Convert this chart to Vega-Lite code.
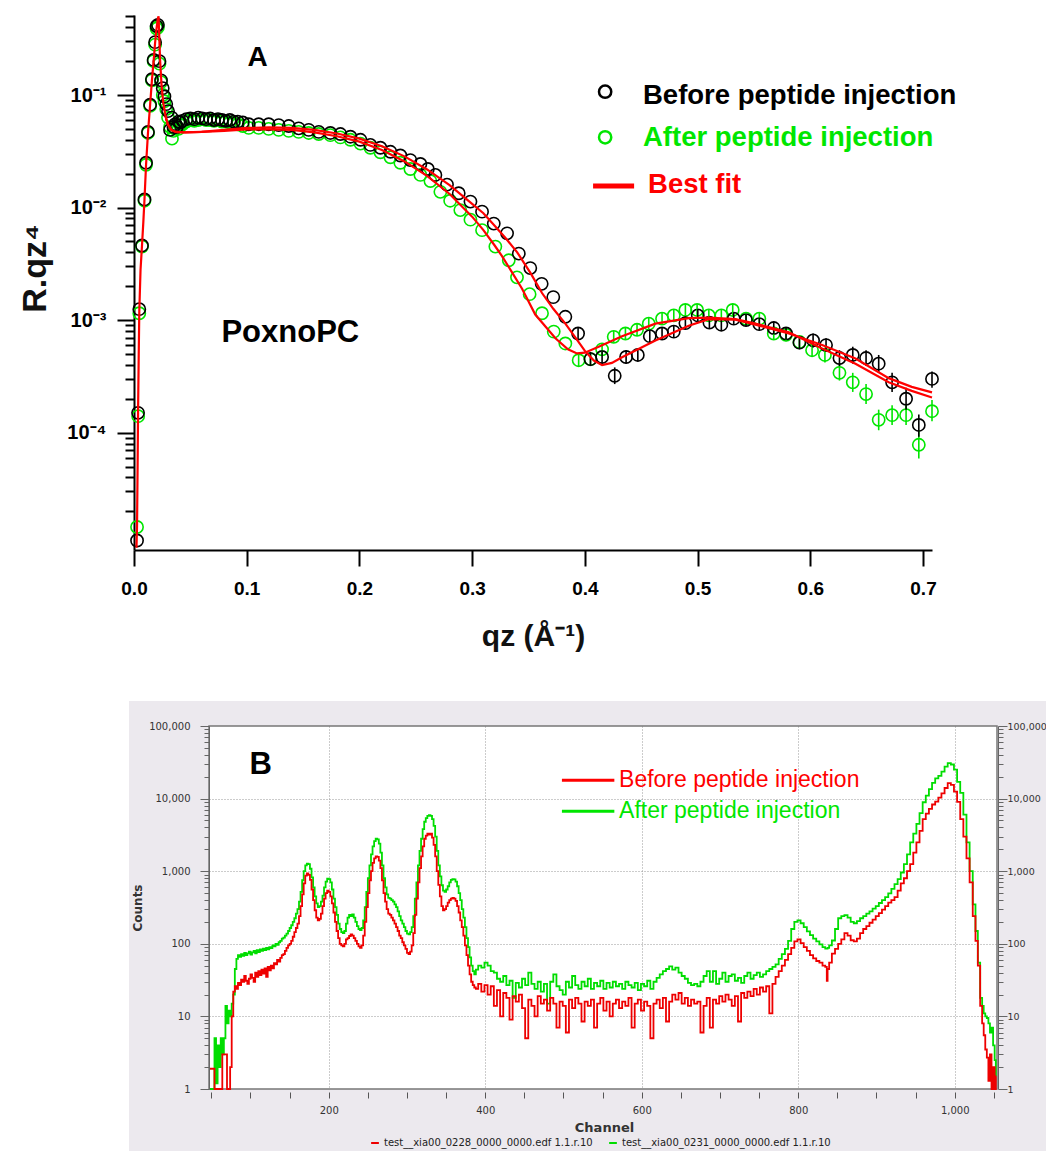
{
"$schema":"https://vega.github.io/schema/vega-lite/v6.json",
"background":"white",
"padding":{"left":18,"top":6,"right":0,"bottom":0},
"config":{"view":{"stroke":null,"fill":"white"},"font":"Liberation Sans"},
"datasets":{
"ptsA":[
{"s":"a","q":0.0027,"r":1.45e-5},{"s":"a","q":0.0037,"r":1.4e-4},{"s":"a","q":0.0047,"r":1.15e-3},{"s":"a","q":0.0071,"r":4.5e-3},{"s":"a","q":0.0093,"r":0.0115},{"s":"a","q":0.0107,"r":0.024},{"s":"a","q":0.0124,"r":0.046},{"s":"a","q":0.0143,"r":0.08},{"s":"a","q":0.0159,"r":0.135},{"s":"a","q":0.0174,"r":0.2},{"s":"a","q":0.0187,"r":0.28},{"s":"a","q":0.02,"r":0.39},{"s":"a","q":0.0212,"r":0.4},{"s":"a","q":0.0226,"r":0.19},{"s":"a","q":0.024,"r":0.13},{"s":"a","q":0.0255,"r":0.1},{"s":"a","q":0.027,"r":0.088},{"s":"a","q":0.0286,"r":0.075},{"s":"a","q":0.0302,"r":0.063},{"s":"a","q":0.032,"r":0.052},{"s":"a","q":0.0337,"r":0.041},{"s":"a","q":0.035,"r":0.048},{"s":"a","q":0.0366,"r":0.05},{"s":"a","q":0.038,"r":0.053},{"s":"a","q":0.0395,"r":0.05},{"s":"a","q":0.041,"r":0.054},{"s":"a","q":0.043,"r":0.055},{"s":"a","q":0.0465,"r":0.058},{"s":"a","q":0.05,"r":0.06},{"s":"a","q":0.0535,"r":0.059},{"s":"a","q":0.057,"r":0.06},{"s":"a","q":0.0605,"r":0.061},{"s":"a","q":0.064,"r":0.06},{"s":"a","q":0.0675,"r":0.06},{"s":"a","q":0.071,"r":0.059},{"s":"a","q":0.0745,"r":0.06},{"s":"a","q":0.078,"r":0.058},{"s":"a","q":0.0815,"r":0.058},{"s":"a","q":0.085,"r":0.057},{"s":"a","q":0.0885,"r":0.056},{"s":"a","q":0.092,"r":0.055},{"s":"a","q":0.0965,"r":0.053},
{"s":"a","q":0.1018,"r":0.051},{"s":"a","q":0.1106,"r":0.051},{"s":"a","q":0.1195,"r":0.05},{"s":"a","q":0.1284,"r":0.049},{"s":"a","q":0.1373,"r":0.048},{"s":"a","q":0.1461,"r":0.047},{"s":"a","q":0.155,"r":0.046},{"s":"a","q":0.1639,"r":0.045},{"s":"a","q":0.1742,"r":0.044},{"s":"a","q":0.1831,"r":0.042},{"s":"a","q":0.192,"r":0.04},{"s":"a","q":0.2009,"r":0.037},{"s":"a","q":0.2097,"r":0.034},{"s":"a","q":0.2186,"r":0.031},{"s":"a","q":0.2275,"r":0.028},{"s":"a","q":0.2363,"r":0.025},{"s":"a","q":0.2452,"r":0.022},{"s":"a","q":0.2541,"r":0.0195},{"s":"a","q":0.263,"r":0.0172},{"s":"a","q":0.2718,"r":0.0138},{"s":"a","q":0.2805,"r":0.0115},{"s":"a","q":0.2895,"r":0.0095},{"s":"a","q":0.2985,"r":0.0078},{"s":"a","q":0.3088,"r":0.0063},{"s":"a","q":0.3206,"r":0.0045},{"s":"a","q":0.3325,"r":0.0034},{"s":"a","q":0.3398,"r":0.0024},{"s":"a","q":0.351,"r":0.0017},{"s":"a","q":0.362,"r":0.00115},{"s":"a","q":0.3724,"r":0.00079},{"s":"a","q":0.3827,"r":0.00062},
{"s":"a","q":0.3945,"r":0.00044,"lo":0.00039,"hi":0.0005},{"s":"a","q":0.405,"r":0.00045,"lo":0.0004,"hi":0.00051},{"s":"a","q":0.4153,"r":0.00055,"lo":0.00049,"hi":0.00062},{"s":"a","q":0.4256,"r":0.00071,"lo":0.00063,"hi":0.0008},{"s":"a","q":0.436,"r":0.00076,"lo":0.00067,"hi":0.00086},{"s":"a","q":0.4463,"r":0.00082,"lo":0.00073,"hi":0.00093},{"s":"a","q":0.4567,"r":0.00093,"lo":0.00082,"hi":0.00105},{"s":"a","q":0.4685,"r":0.00103,"lo":0.00091,"hi":0.00116},{"s":"a","q":0.4789,"r":0.0011,"lo":0.00097,"hi":0.00124},{"s":"a","q":0.4892,"r":0.00123,"lo":0.00109,"hi":0.00139},{"s":"a","q":0.4996,"r":0.00123,"lo":0.00109,"hi":0.00139},{"s":"a","q":0.51,"r":0.0011,"lo":0.00097,"hi":0.00124},{"s":"a","q":0.5211,"r":0.0011,"lo":0.00097,"hi":0.00124},{"s":"a","q":0.5312,"r":0.00123,"lo":0.00108,"hi":0.0014},{"s":"a","q":0.543,"r":0.00103,"lo":0.00091,"hi":0.00116},{"s":"a","q":0.5548,"r":0.00103,"lo":0.00091,"hi":0.00116},{"s":"a","q":0.5676,"r":0.00076,"lo":0.00067,"hi":0.00086},{"s":"a","q":0.5785,"r":0.00074,"lo":0.00065,"hi":0.00084},{"s":"a","q":0.5904,"r":0.00064,"lo":0.00056,"hi":0.00073},{"s":"a","q":0.6016,"r":0.00054,"lo":0.00047,"hi":0.00062},{"s":"a","q":0.613,"r":0.00049,"lo":0.00042,"hi":0.00057},{"s":"a","q":0.6259,"r":0.00034,"lo":0.00029,"hi":0.0004},{"s":"a","q":0.6377,"r":0.00028,"lo":0.00023,"hi":0.00034},{"s":"a","q":0.6495,"r":0.00022,"lo":0.00018,"hi":0.00027},{"s":"a","q":0.6607,"r":0.00013,"lo":0.000105,"hi":0.00016},{"s":"a","q":0.6726,"r":0.000143,"lo":0.000117,"hi":0.000175},{"s":"a","q":0.685,"r":0.000143,"lo":0.000117,"hi":0.000175},{"s":"a","q":0.6963,"r":0.000078,"lo":0.000059,"hi":0.000105},{"s":"a","q":0.708,"r":0.000155,"lo":0.000126,"hi":0.000195},
{"s":"b","q":0.0027,"r":1.1e-5},{"s":"b","q":0.0036,"r":1.5e-4},{"s":"b","q":0.0047,"r":1.25e-3},{"s":"b","q":0.0071,"r":4.6e-3},{"s":"b","q":0.0093,"r":0.0118},{"s":"b","q":0.0107,"r":0.025},{"s":"b","q":0.0124,"r":0.047},{"s":"b","q":0.0143,"r":0.082},{"s":"b","q":0.0159,"r":0.138},{"s":"b","q":0.0174,"r":0.205},{"s":"b","q":0.0187,"r":0.295},{"s":"b","q":0.02,"r":0.41},{"s":"b","q":0.0212,"r":0.42},{"s":"b","q":0.0226,"r":0.2},{"s":"b","q":0.024,"r":0.135},{"s":"b","q":0.0255,"r":0.115},{"s":"b","q":0.027,"r":0.097},{"s":"b","q":0.0286,"r":0.083},{"s":"b","q":0.0302,"r":0.072},{"s":"b","q":0.032,"r":0.049},{"s":"b","q":0.0335,"r":0.063},{"s":"b","q":0.035,"r":0.052},{"s":"b","q":0.0366,"r":0.055},{"s":"b","q":0.038,"r":0.052},{"s":"b","q":0.0395,"r":0.058},{"s":"b","q":0.041,"r":0.057},{"s":"b","q":0.043,"r":0.059},{"s":"b","q":0.0465,"r":0.061},{"s":"b","q":0.05,"r":0.062},{"s":"b","q":0.0535,"r":0.061},{"s":"b","q":0.057,"r":0.063},{"s":"b","q":0.0605,"r":0.062},{"s":"b","q":0.064,"r":0.061},{"s":"b","q":0.0675,"r":0.062},{"s":"b","q":0.071,"r":0.06},{"s":"b","q":0.0745,"r":0.061},{"s":"b","q":0.078,"r":0.06},{"s":"b","q":0.0815,"r":0.059},{"s":"b","q":0.085,"r":0.06},{"s":"b","q":0.0885,"r":0.058},{"s":"b","q":0.092,"r":0.058},{"s":"b","q":0.0965,"r":0.057},
{"s":"b","q":0.1018,"r":0.055},{"s":"b","q":0.1106,"r":0.055},{"s":"b","q":0.1195,"r":0.055},{"s":"b","q":0.1284,"r":0.054},{"s":"b","q":0.1373,"r":0.053},{"s":"b","q":0.1461,"r":0.0506},{"s":"b","q":0.155,"r":0.049},{"s":"b","q":0.1639,"r":0.047},{"s":"b","q":0.1742,"r":0.046},{"s":"b","q":0.1831,"r":0.045},{"s":"b","q":0.192,"r":0.0426},{"s":"b","q":0.2009,"r":0.04},{"s":"b","q":0.2097,"r":0.036},{"s":"b","q":0.2186,"r":0.034},{"s":"b","q":0.2275,"r":0.0313},{"s":"b","q":0.2363,"r":0.029},{"s":"b","q":0.2452,"r":0.0264},{"s":"b","q":0.2541,"r":0.0244},{"s":"b","q":0.2607,"r":0.022},{"s":"b","q":0.2674,"r":0.0195},{"s":"b","q":0.2777,"r":0.016},{"s":"b","q":0.2881,"r":0.0134},{"s":"b","q":0.2985,"r":0.0113},{"s":"b","q":0.3088,"r":0.0092},{"s":"b","q":0.3192,"r":0.0072},{"s":"b","q":0.331,"r":0.0059},{"s":"b","q":0.3414,"r":0.0039},{"s":"b","q":0.3516,"r":0.0029},{"s":"b","q":0.3617,"r":0.0021},{"s":"b","q":0.372,"r":0.0016},{"s":"b","q":0.3827,"r":0.00107},
{"s":"b","q":0.394,"r":0.00076,"lo":0.00067,"hi":0.00087},{"s":"b","q":0.405,"r":0.00045,"lo":0.00039,"hi":0.00052},{"s":"b","q":0.4153,"r":0.00047,"lo":0.00041,"hi":0.00054},{"s":"b","q":0.4265,"r":0.00032,"lo":0.00027,"hi":0.00038},{"s":"b","q":0.4366,"r":0.00047,"lo":0.00041,"hi":0.00054},{"s":"b","q":0.447,"r":0.00049,"lo":0.00043,"hi":0.00056},{"s":"b","q":0.4576,"r":0.00072,"lo":0.00063,"hi":0.00082},{"s":"b","q":0.4685,"r":0.00076,"lo":0.00067,"hi":0.00087},{"s":"b","q":0.4789,"r":0.00079,"lo":0.0007,"hi":0.0009},{"s":"b","q":0.4892,"r":0.00094,"lo":0.00083,"hi":0.00107},{"s":"b","q":0.5002,"r":0.0011,"lo":0.00097,"hi":0.00125},{"s":"b","q":0.5105,"r":0.00095,"lo":0.00084,"hi":0.00108},{"s":"b","q":0.5211,"r":0.00091,"lo":0.0008,"hi":0.00104},{"s":"b","q":0.5321,"r":0.00103,"lo":0.00091,"hi":0.00117},{"s":"b","q":0.543,"r":0.001,"lo":0.00088,"hi":0.00114},{"s":"b","q":0.5548,"r":0.00092,"lo":0.00081,"hi":0.00105},{"s":"b","q":0.5676,"r":0.00085,"lo":0.00075,"hi":0.00097},{"s":"b","q":0.5785,"r":0.00076,"lo":0.00067,"hi":0.00087},{"s":"b","q":0.5904,"r":0.00063,"lo":0.00055,"hi":0.00072},{"s":"b","q":0.6025,"r":0.00066,"lo":0.00057,"hi":0.00076},{"s":"b","q":0.614,"r":0.0006,"lo":0.00052,"hi":0.00069},{"s":"b","q":0.6259,"r":0.00046,"lo":0.00039,"hi":0.00054},{"s":"b","q":0.6377,"r":0.00049,"lo":0.00041,"hi":0.00058},{"s":"b","q":0.6495,"r":0.00046,"lo":0.00039,"hi":0.00054},{"s":"b","q":0.6607,"r":0.00041,"lo":0.00034,"hi":0.00049},{"s":"b","q":0.6726,"r":0.00028,"lo":0.00023,"hi":0.00034},{"s":"b","q":0.685,"r":0.0002,"lo":0.00016,"hi":0.00025},{"s":"b","q":0.6963,"r":0.000117,"lo":0.000092,"hi":0.000145},{"s":"b","q":0.708,"r":0.0003,"lo":0.00025,"hi":0.00035}
],
"fitA":[
{"s":"b","q":0.0022,"r":9.5e-6},{"s":"b","q":0.0027,"r":1.5e-5},{"s":"b","q":0.0032,"r":5e-5},{"s":"b","q":0.0036,"r":1.5e-4},{"s":"b","q":0.0042,"r":5e-4},{"s":"b","q":0.0047,"r":1.2e-3},{"s":"b","q":0.0058,"r":2.8e-3},{"s":"b","q":0.0071,"r":4.6e-3},{"s":"b","q":0.0083,"r":7.5e-3},{"s":"b","q":0.0093,"r":0.0118},{"s":"b","q":0.0107,"r":0.024},{"s":"b","q":0.0124,"r":0.046},{"s":"b","q":0.0143,"r":0.082},{"s":"b","q":0.0159,"r":0.135},{"s":"b","q":0.0174,"r":0.2},{"s":"b","q":0.0187,"r":0.29},{"s":"b","q":0.02,"r":0.39},{"s":"b","q":0.0212,"r":0.48},{"s":"b","q":0.0218,"r":0.5},{"s":"b","q":0.0224,"r":0.33},{"s":"b","q":0.0232,"r":0.2},{"s":"b","q":0.0245,"r":0.12},{"s":"b","q":0.026,"r":0.085},{"s":"b","q":0.028,"r":0.065},{"s":"b","q":0.03,"r":0.055},{"s":"b","q":0.033,"r":0.049},{"s":"b","q":0.037,"r":0.047},{"s":"b","q":0.045,"r":0.0465},{"s":"b","q":0.06,"r":0.047},{"s":"b","q":0.08,"r":0.049},{"s":"b","q":0.1,"r":0.051},{"s":"b","q":0.12,"r":0.0515},{"s":"b","q":0.14,"r":0.051},{"s":"b","q":0.16,"r":0.049},{"s":"b","q":0.18,"r":0.0455},{"s":"b","q":0.2,"r":0.041},{"s":"b","q":0.22,"r":0.035},{"s":"b","q":0.24,"r":0.0285},{"s":"b","q":0.26,"r":0.0218},{"s":"b","q":0.28,"r":0.0158},{"s":"b","q":0.3,"r":0.0108},{"s":"b","q":0.31,"r":0.0089},{"s":"b","q":0.32,"r":0.0069},{"s":"b","q":0.33,"r":0.0053},{"s":"b","q":0.34,"r":0.004},{"s":"b","q":0.352,"r":0.0026},{"s":"b","q":0.362,"r":0.00174},{"s":"b","q":0.372,"r":0.00126},{"s":"b","q":0.3827,"r":0.00093},{"s":"b","q":0.392,"r":0.00069},{"s":"b","q":0.4005,"r":0.000525},{"s":"b","q":0.408,"r":0.000437},{"s":"b","q":0.4153,"r":0.000398},{"s":"b","q":0.424,"r":0.000417},{"s":"b","q":0.433,"r":0.000468},{"s":"b","q":0.4626,"r":0.00066},{"s":"b","q":0.4922,"r":0.00089},{"s":"b","q":0.5099,"r":0.00102},{"s":"b","q":0.5336,"r":0.00101},{"s":"b","q":0.5513,"r":0.00091},{"s":"b","q":0.581,"r":0.00076},{"s":"b","q":0.6105,"r":0.0006},{"s":"b","q":0.6401,"r":0.000455},{"s":"b","q":0.6696,"r":0.000305},{"s":"b","q":0.69,"r":0.000255},{"s":"b","q":0.708,"r":0.000228},
{"s":"a","q":0.028,"r":0.065},{"s":"a","q":0.03,"r":0.055},{"s":"a","q":0.033,"r":0.049},{"s":"a","q":0.037,"r":0.047},{"s":"a","q":0.045,"r":0.0465},{"s":"a","q":0.06,"r":0.047},{"s":"a","q":0.08,"r":0.048},{"s":"a","q":0.1,"r":0.0495},{"s":"a","q":0.12,"r":0.0495},{"s":"a","q":0.14,"r":0.049},{"s":"a","q":0.16,"r":0.0465},{"s":"a","q":0.18,"r":0.043},{"s":"a","q":0.2,"r":0.0385},{"s":"a","q":0.22,"r":0.0325},{"s":"a","q":0.24,"r":0.0257},{"s":"a","q":0.26,"r":0.0191},{"s":"a","q":0.28,"r":0.0132},{"s":"a","q":0.3,"r":0.0083},{"s":"a","q":0.31,"r":0.0063},{"s":"a","q":0.32,"r":0.0046},{"s":"a","q":0.3265,"r":0.0037},{"s":"a","q":0.335,"r":0.0027},{"s":"a","q":0.3443,"r":0.0019},{"s":"a","q":0.356,"r":0.00112},{"s":"a","q":0.3739,"r":0.00069},{"s":"a","q":0.385,"r":0.00055},{"s":"a","q":0.393,"r":0.000506},{"s":"a","q":0.4,"r":0.000513},{"s":"a","q":0.4123,"r":0.00058},{"s":"a","q":0.433,"r":0.00072},{"s":"a","q":0.4626,"r":0.00093},{"s":"a","q":0.4922,"r":0.00104},{"s":"a","q":0.5099,"r":0.00105},{"s":"a","q":0.5336,"r":0.00102},{"s":"a","q":0.5513,"r":0.00093},{"s":"a","q":0.581,"r":0.00078},{"s":"a","q":0.6105,"r":0.00056},{"s":"a","q":0.6401,"r":0.00041},{"s":"a","q":0.6696,"r":0.00028},{"s":"a","q":0.69,"r":0.000235},{"s":"a","q":0.708,"r":0.000205}
],
"specB":[
{"c":48,"r":1.9,"g":1},{"c":53,"r":1.9,"g":1},{"c":55,"r":1,"g":5},{"c":57,"r":1,"g":1.2},{"c":59,"r":1,"g":4},{"c":61,"r":1,"g":2},{"c":63,"r":1,"g":5},{"c":65,"r":3,"g":3},{"c":67,"r":3,"g":5},{"c":69,"r":3,"g":14},{"c":71,"r":1,"g":8},{"c":73,"r":1,"g":12},{"c":75,"r":2,"g":10},{"c":77,"r":10,"g":15},{"c":79,"r":22,"g":20},{"c":81,"r":26,"g":45},{"c":83,"r":24,"g":62},{"c":85,"r":29,"g":70},{"c":87,"r":27,"g":66},{"c":89,"r":32,"g":72},{"c":91,"r":30,"g":68},{"c":93,"r":36,"g":75},{"c":95,"r":31,"g":70},{"c":97,"r":28,"g":74},{"c":99,"r":33,"g":78},{"c":101,"r":38,"g":71},{"c":103,"r":34,"g":76},{"c":105,"r":30,"g":80},{"c":107,"r":40,"g":74},{"c":109,"r":35,"g":82},{"c":111,"r":42,"g":77},{"c":113,"r":37,"g":84},{"c":115,"r":44,"g":80},{"c":117,"r":39,"g":86},{"c":119,"r":46,"g":82},{"c":121,"r":35,"g":88},{"c":123,"r":48,"g":84},{"c":125,"r":43,"g":90},{"c":127,"r":50,"g":87},{"c":129,"r":46,"g":95},{"c":131,"r":54,"g":92},{"c":133,"r":52,"g":100},{"c":135,"r":60,"g":97},{"c":137,"r":57,"g":105},{"c":139,"r":64,"g":110},{"c":141,"r":70,"g":118},{"c":143,"r":72,"g":122},{"c":145,"r":80,"g":130},{"c":147,"r":88,"g":138},{"c":149,"r":95,"g":150},{"c":151,"r":100,"g":165},{"c":153,"r":110,"g":180},{"c":155,"r":125,"g":200},{"c":157,"r":145,"g":225},{"c":159,"r":165,"g":260},{"c":161,"r":190,"g":300},{"c":163,"r":240,"g":380},{"c":165,"r":330,"g":520},{"c":167,"r":480,"g":750},{"c":169,"r":680,"g":1000},{"c":171,"r":870,"g":1200},{"c":173,"r":930,"g":1270},{"c":175,"r":890,"g":1250},{"c":177,"r":760,"g":1080},{"c":179,"r":560,"g":820},{"c":181,"r":400,"g":600},{"c":183,"r":290,"g":450},{"c":185,"r":230,"g":360},{"c":187,"r":210,"g":320},{"c":189,"r":220,"g":330},{"c":191,"r":260,"g":380},{"c":193,"r":330,"g":460},{"c":195,"r":420,"g":600},{"c":197,"r":500,"g":720},{"c":199,"r":540,"g":790},{"c":201,"r":520,"g":780},{"c":203,"r":450,"g":700},{"c":205,"r":360,"g":560},{"c":207,"r":270,"g":420},{"c":209,"r":200,"g":320},{"c":211,"r":150,"g":250},{"c":213,"r":120,"g":190},{"c":215,"r":100,"g":160},{"c":217,"r":95,"g":145},{"c":219,"r":92,"g":140},{"c":221,"r":100,"g":150},{"c":223,"r":115,"g":190},{"c":225,"r":120,"g":230},{"c":227,"r":128,"g":250},{"c":229,"r":135,"g":240},{"c":231,"r":130,"g":255},{"c":233,"r":120,"g":230},{"c":235,"r":110,"g":200},{"c":237,"r":100,"g":175},{"c":239,"r":92,"g":160},{"c":241,"r":88,"g":155},{"c":243,"r":95,"g":165},{"c":245,"r":130,"g":210},{"c":247,"r":200,"g":320},{"c":249,"r":320,"g":520},{"c":251,"r":500,"g":800},{"c":253,"r":750,"g":1200},{"c":255,"r":1000,"g":1700},{"c":257,"r":1300,"g":2200},{"c":259,"r":1500,"g":2600},{"c":261,"r":1600,"g":2800},{"c":263,"r":1580,"g":2750},{"c":265,"r":1400,"g":2400},{"c":267,"r":1100,"g":1800},{"c":269,"r":750,"g":1200},{"c":271,"r":500,"g":800},{"c":273,"r":380,"g":600},{"c":275,"r":300,"g":480},{"c":277,"r":260,"g":430},{"c":279,"r":250,"g":420},{"c":281,"r":230,"g":400},{"c":283,"r":210,"g":380},{"c":285,"r":190,"g":350},{"c":287,"r":170,"g":320},{"c":289,"r":150,"g":280},{"c":291,"r":130,"g":240},{"c":293,"r":120,"g":210},{"c":295,"r":105,"g":190},{"c":297,"r":95,"g":170},{"c":299,"r":85,"g":150},{"c":301,"r":75,"g":138},{"c":303,"r":72,"g":135},{"c":305,"r":78,"g":145},{"c":307,"r":95,"g":170},{"c":309,"r":140,"g":240},{"c":311,"r":250,"g":420},{"c":313,"r":420,"g":700},{"c":315,"r":700,"g":1200},{"c":317,"r":1100,"g":1900},{"c":319,"r":1600,"g":2800},{"c":321,"r":2200,"g":3800},{"c":323,"r":2800,"g":4800},{"c":325,"r":3100,"g":5400},{"c":327,"r":3300,"g":5800},{"c":329,"r":3200,"g":5900},{"c":331,"r":3300,"g":5800},{"c":333,"r":2900,"g":5200},{"c":335,"r":2300,"g":4200},{"c":337,"r":1600,"g":3000},{"c":339,"r":1000,"g":1900},{"c":341,"r":650,"g":1200},{"c":343,"r":450,"g":850},{"c":345,"r":330,"g":640},{"c":347,"r":290,"g":540},{"c":349,"r":300,"g":520},{"c":351,"r":330,"g":560},{"c":353,"r":370,"g":620},{"c":355,"r":400,"g":700},{"c":357,"r":420,"g":760},{"c":359,"r":430,"g":780},{"c":361,"r":420,"g":770},{"c":363,"r":390,"g":720},{"c":365,"r":330,"g":620},{"c":367,"r":270,"g":500},{"c":369,"r":210,"g":400},{"c":371,"r":170,"g":300},{"c":373,"r":130,"g":230},{"c":375,"r":95,"g":170},{"c":377,"r":70,"g":120},{"c":379,"r":50,"g":90},{"c":381,"r":38,"g":65},{"c":383,"r":30,"g":50},{"c":385,"r":27,"g":42},{"c":387,"r":25,"g":38},
{"c":389,"r":24,"g":44},{"c":393,"r":28,"g":50},{"c":397,"r":22,"g":47},{"c":401,"r":27,"g":55},{"c":405,"r":20,"g":50},{"c":409,"r":26,"g":42},{"c":413,"r":14,"g":40},{"c":417,"r":23,"g":33},{"c":421,"r":10,"g":30},{"c":425,"r":21,"g":36},{"c":429,"r":18,"g":27},{"c":433,"r":9,"g":31},{"c":437,"r":19,"g":18},{"c":441,"r":16,"g":29},{"c":445,"r":20,"g":25},{"c":449,"r":13,"g":33},{"c":453,"r":5,"g":27},{"c":457,"r":17,"g":40},{"c":461,"r":14,"g":28},{"c":465,"r":10,"g":24},{"c":469,"r":19,"g":30},{"c":473,"r":15,"g":22},{"c":477,"r":17,"g":28},{"c":481,"r":12,"g":15},{"c":485,"r":18,"g":30},{"c":489,"r":15,"g":38},{"c":493,"r":7,"g":26},{"c":497,"r":16,"g":23},{"c":501,"r":14,"g":20},{"c":505,"r":6,"g":30},{"c":509,"r":17,"g":25},{"c":513,"r":13,"g":36},{"c":517,"r":18,"g":27},{"c":521,"r":15,"g":24},{"c":525,"r":8.5,"g":30},{"c":529,"r":16,"g":26},{"c":533,"r":14,"g":33},{"c":537,"r":17,"g":24},{"c":541,"r":7,"g":29},{"c":545,"r":15,"g":26},{"c":549,"r":18,"g":31},{"c":553,"r":12,"g":24},{"c":557,"r":16,"g":29},{"c":561,"r":10,"g":25},{"c":565,"r":15,"g":30},{"c":569,"r":17,"g":26},{"c":573,"r":13,"g":28},{"c":577,"r":16,"g":24},{"c":581,"r":14,"g":30},{"c":585,"r":18,"g":27},{"c":589,"r":7,"g":25},{"c":593,"r":15,"g":29},{"c":597,"r":17,"g":23},{"c":601,"r":12,"g":28},{"c":605,"r":16,"g":26},{"c":609,"r":14,"g":31},{"c":613,"r":5,"g":24},{"c":617,"r":15,"g":30},{"c":621,"r":17,"g":34},{"c":625,"r":13,"g":38},{"c":629,"r":18,"g":42},{"c":633,"r":8.5,"g":45},{"c":637,"r":16,"g":49},{"c":641,"r":20,"g":44},{"c":645,"r":17,"g":47},{"c":649,"r":21,"g":40},{"c":653,"r":15,"g":36},{"c":657,"r":18,"g":33},{"c":661,"r":14,"g":29},{"c":665,"r":17,"g":27},{"c":669,"r":15,"g":28},{"c":673,"r":16,"g":26},{"c":677,"r":6,"g":30},{"c":681,"r":14,"g":36},{"c":685,"r":18,"g":42},{"c":689,"r":7,"g":30},{"c":693,"r":17,"g":42},{"c":697,"r":15,"g":28},{"c":701,"r":19,"g":33},{"c":705,"r":16,"g":40},{"c":709,"r":20,"g":30},{"c":713,"r":17,"g":36},{"c":717,"r":14,"g":38},{"c":721,"r":19,"g":31},{"c":725,"r":8.5,"g":34},{"c":729,"r":21,"g":29},{"c":733,"r":18,"g":36},{"c":737,"r":22,"g":40},{"c":741,"r":19,"g":33},{"c":745,"r":24,"g":37},{"c":749,"r":20,"g":40},{"c":753,"r":25,"g":35},{"c":757,"r":22,"g":38},{"c":761,"r":26,"g":42},{"c":765,"r":11,"g":45},{"c":769,"r":28,"g":48},{"c":773,"r":35,"g":52},{"c":777,"r":42,"g":62},{"c":781,"r":50,"g":72},{"c":785,"r":60,"g":85},{"c":789,"r":72,"g":110},{"c":793,"r":88,"g":160},
{"c":797,"r":108,"g":200},{"c":801,"r":115,"g":210},{"c":805,"r":102,"g":192},{"c":809,"r":90,"g":170},{"c":813,"r":80,"g":148},{"c":817,"r":70,"g":132},{"c":821,"r":63,"g":118},{"c":825,"r":58,"g":108},{"c":829,"r":55,"g":98},{"c":833,"r":50,"g":90},{"c":836,"r":48,"g":86},{"c":837,"r":31,"g":86},{"c":838,"r":45,"g":88},{"c":841,"r":55,"g":95},{"c":845,"r":73,"g":111},{"c":849,"r":85,"g":160},{"c":853,"r":100,"g":225},{"c":857,"r":115,"g":240},{"c":861,"r":140,"g":248},{"c":865,"r":130,"g":230},{"c":869,"r":112,"g":200},{"c":873,"r":108,"g":192},{"c":877,"r":118,"g":205},{"c":881,"r":140,"g":225},{"c":885,"r":160,"g":240},{"c":889,"r":175,"g":260},{"c":893,"r":195,"g":280},{"c":897,"r":215,"g":305},{"c":901,"r":240,"g":330},{"c":905,"r":265,"g":365},{"c":909,"r":295,"g":400},{"c":913,"r":330,"g":440},{"c":917,"r":370,"g":495},{"c":921,"r":400,"g":570},{"c":925,"r":440,"g":665},{"c":929,"r":540,"g":780},{"c":933,"r":680,"g":960},{"c":937,"r":800,"g":1250},{"c":941,"r":1000,"g":1700},{"c":945,"r":1250,"g":2500},{"c":949,"r":1800,"g":3300},{"c":953,"r":2500,"g":4500},{"c":957,"r":3600,"g":6300},{"c":961,"r":5200,"g":8900},{"c":965,"r":6200,"g":11000},{"c":969,"r":7200,"g":13500},{"c":973,"r":8300,"g":16500},{"c":977,"r":9100,"g":19000},{"c":981,"r":10300,"g":20500},{"c":985,"r":11800,"g":23500},{"c":989,"r":14000,"g":27500},{"c":993,"r":16300,"g":30800},{"c":997,"r":15500,"g":29500},{"c":1001,"r":12500,"g":25000},{"c":1005,"r":9000,"g":17000},{"c":1009,"r":5200,"g":12000},{"c":1013,"r":3000,"g":6000},{"c":1017,"r":1500,"g":2500},{"c":1021,"r":700,"g":1000},{"c":1025,"r":240,"g":350},{"c":1028,"r":110,"g":150},{"c":1031,"r":50,"g":55},{"c":1034,"r":14,"g":18},{"c":1036,"r":8,"g":14},{"c":1038,"r":5.5,"g":11},{"c":1040,"r":3.5,"g":10},{"c":1042,"r":2.7,"g":9.5},{"c":1044,"r":1.3,"g":8},{"c":1046,"r":3,"g":6},{"c":1048,"r":1,"g":7},{"c":1050,"r":2,"g":4},{"c":1052,"r":1,"g":2.5},{"c":1053,"r":1.5,"g":1.5}
]
},
"columns":1,
"spacing":49,
"resolve":{"scale":{"x":"independent","y":"independent","color":"independent"}},
"concat":[
{
"width":798,"height":535,
"resolve":{"axis":{"x":"independent","y":"independent"}},
"layer":[
{"data":{"name":"ptsA"},"mark":{"type":"point","shape":"circle","filled":false,"size":150,"strokeWidth":1.6,"opacity":1},
"encoding":{
"x":{"field":"q","type":"quantitative","scale":{"domain":[0,0.708],"nice":false,"zero":false},
"axis":{"orient":"bottom","values":[0,0.1,0.2,0.3,0.4,0.5,0.6,0.7],"format":".1f","grid":false,"domainColor":"#000","domainWidth":2,"tickColor":"#000","tickWidth":2,"tickSize":16,"labelFont":"Liberation Sans","labelFontWeight":"bold","labelFontSize":19,"labelColor":"#000","labelPadding":13,"labelFlush":false,"labelOverlap":false,"title":"qz (Å⁻¹)","titleFont":"Liberation Sans","titleFontWeight":"bold","titleFontSize":30,"titleColor":"#111","titlePadding":23}},
"y":{"field":"r","type":"quantitative","scale":{"type":"log","domain":[9.06e-6,0.514],"nice":false},
"axis":{"orient":"left","values":[2e-5,3e-5,4e-5,5e-5,6e-5,7e-5,8e-5,9e-5,0.0001,0.0002,0.0003,0.0004,0.0005,0.0006,0.0007,0.0008,0.0009,0.001,0.002,0.003,0.004,0.005,0.006,0.007,0.008,0.009,0.01,0.02,0.03,0.04,0.05,0.06,0.07,0.08,0.09,0.1,0.2,0.3,0.4,0.5],
"labelExpr":"datum.value == 0.1 ? '10⁻¹' : datum.value == 0.01 ? '10⁻²' : datum.value == 0.001 ? '10⁻³' : datum.value == 0.0001 ? '10⁻⁴' : ''",
"tickSize":{"condition":{"test":"datum.value == 0.1 || datum.value == 0.01 || datum.value == 0.001 || datum.value == 0.0001","value":17},"value":9},
"grid":false,"domainColor":"#000","domainWidth":2,"tickColor":"#000","tickWidth":2,"labelFont":"Liberation Sans","labelFontWeight":"bold","labelFontSize":20,"labelColor":"#000","labelPadding":11,"labelOverlap":false,"labelFlush":false,"title":"R.qz⁴","titleFont":"Liberation Sans","titleFontWeight":"bold","titleFontSize":34,"titleColor":"#111","titlePadding":14,"titleY":253}},
"color":{"field":"s","type":"nominal","scale":{"domain":["a","b"],"range":["#00e600","#000000"]},"legend":null}}},
{"data":{"name":"ptsA"},"transform":[{"filter":"isValid(datum.lo)"}],"mark":{"type":"rule","strokeWidth":1.6},
"encoding":{"x":{"field":"q","type":"quantitative","scale":{"domain":[0,0.708],"nice":false,"zero":false},"axis":null},
"y":{"field":"lo","type":"quantitative","scale":{"type":"log","domain":[9.06e-6,0.514],"nice":false},"axis":null},"y2":{"field":"hi"},
"color":{"field":"s","type":"nominal","scale":{"domain":["a","b"],"range":["#00e600","#000000"]},"legend":null}}},
{"data":{"name":"fitA"},"mark":{"type":"line","color":"#ff0000","strokeWidth":2.2},
"encoding":{"x":{"field":"q","type":"quantitative","scale":{"domain":[0,0.708],"nice":false,"zero":false},"axis":null},
"y":{"field":"r","type":"quantitative","scale":{"type":"log","domain":[9.06e-6,0.514],"nice":false},"axis":null},"detail":{"field":"s","type":"nominal"}}},
{"data":{"values":[{}]},"mark":{"type":"point","shape":"circle","filled":false,"size":150,"strokeWidth":2.5,"color":"#000","opacity":1},
"encoding":{"x":{"datum":0.418,"type":"quantitative","scale":{"domain":[0,0.708],"nice":false,"zero":false},"axis":null},"y":{"datum":0.107,"type":"quantitative","scale":{"type":"log","domain":[9.06e-6,0.514],"nice":false},"axis":null}}},
{"data":{"values":[{}]},"mark":{"type":"point","shape":"circle","filled":false,"size":150,"strokeWidth":2.5,"color":"#00e600","opacity":1},
"encoding":{"x":{"datum":0.418,"type":"quantitative","scale":{"domain":[0,0.708],"nice":false,"zero":false},"axis":null},"y":{"datum":0.0421,"type":"quantitative","scale":{"type":"log","domain":[9.06e-6,0.514],"nice":false},"axis":null}}},
{"data":{"values":[{}]},"mark":{"type":"rule","color":"#ff0000","strokeWidth":5},
"encoding":{"x":{"datum":0.4073,"type":"quantitative","scale":{"domain":[0,0.708],"nice":false,"zero":false},"axis":null},"x2":{"datum":0.4437},"y":{"datum":0.01552,"type":"quantitative","scale":{"type":"log","domain":[9.06e-6,0.514],"nice":false},"axis":null}}},
{"data":{"values":[{}]},"mark":{"type":"text","text":"Before peptide injection","font":"Liberation Sans","fontWeight":"bold","fontSize":27.5,"color":"#000","align":"left","baseline":"middle"},
"encoding":{"x":{"datum":0.4516,"type":"quantitative","scale":{"domain":[0,0.708],"nice":false,"zero":false},"axis":null},"y":{"datum":0.0977,"type":"quantitative","scale":{"type":"log","domain":[9.06e-6,0.514],"nice":false},"axis":null}}},
{"data":{"values":[{}]},"mark":{"type":"text","text":"After peptide injection","font":"Liberation Sans","fontWeight":"bold","fontSize":27.5,"color":"#00e600","align":"left","baseline":"middle"},
"encoding":{"x":{"datum":0.4516,"type":"quantitative","scale":{"domain":[0,0.708],"nice":false,"zero":false},"axis":null},"y":{"datum":0.0412,"type":"quantitative","scale":{"type":"log","domain":[9.06e-6,0.514],"nice":false},"axis":null}}},
{"data":{"values":[{}]},"mark":{"type":"text","text":"Best fit","font":"Liberation Sans","fontWeight":"bold","fontSize":27.5,"color":"#ff0000","align":"left","baseline":"middle"},
"encoding":{"x":{"datum":0.4561,"type":"quantitative","scale":{"domain":[0,0.708],"nice":false,"zero":false},"axis":null},"y":{"datum":0.0158,"type":"quantitative","scale":{"type":"log","domain":[9.06e-6,0.514],"nice":false},"axis":null}}},
{"data":{"values":[{}]},"mark":{"type":"text","text":"A","font":"Liberation Sans","fontWeight":"bold","fontSize":28,"color":"#000","align":"center","baseline":"middle"},
"encoding":{"x":{"datum":0.1097,"type":"quantitative","scale":{"domain":[0,0.708],"nice":false,"zero":false},"axis":null},"y":{"datum":0.212,"type":"quantitative","scale":{"type":"log","domain":[9.06e-6,0.514],"nice":false},"axis":null}}},
{"data":{"values":[{}]},"mark":{"type":"text","text":"PoxnoPC","font":"Liberation Sans","fontWeight":"bold","fontSize":31,"color":"#000","align":"center","baseline":"middle"},
"encoding":{"x":{"datum":0.1387,"type":"quantitative","scale":{"domain":[0,0.708],"nice":false,"zero":false},"axis":null},"y":{"datum":0.000762,"type":"quantitative","scale":{"type":"log","domain":[9.06e-6,0.514],"nice":false},"axis":null}}}
]
},
{
"width":863,"height":363,
"resolve":{"axis":{"x":"independent","y":"independent"}},
"layer":[
{"data":{"values":[{}]},"mark":{"type":"rect","color":"#ece9ee"},
"encoding":{"x":{"datum":-55.2,"type":"quantitative","scale":{"domain":[-48.85,1054],"nice":false,"zero":false},"axis":null},"x2":{"datum":1119},
"y":{"datum":100000,"type":"quantitative","scale":{"type":"log","domain":[1,100000],"nice":false},
"axis":{"orient":"right","offset":1,"values":[1,2,3,4,5,6,7,8,9,10,20,30,40,50,60,70,80,90,100,200,300,400,500,600,700,800,900,1000,2000,3000,4000,5000,6000,7000,8000,9000,10000,20000,30000,40000,50000,60000,70000,80000,90000,100000],
"labelExpr":"indexof([1,10,100,1000,10000,100000], datum.value) >= 0 ? format(datum.value, ',') : ''",
"tickSize":{"condition":{"test":"indexof([1,10,100,1000,10000,100000], datum.value) >= 0","value":9},"value":5},
"grid":false,"domain":true,"domainColor":"#666","tickColor":"#666","labelFont":"DejaVu Sans","labelFontSize":9.5,"labelColor":"#333","labelPadding":0,"labelOverlap":false,"labelFlush":false,"title":null,"zindex":1}},
"y2":{"datum":221000}}},
{"data":{"values":[{}]},"mark":{"type":"rect","color":"#ece9ee"},
"encoding":{"x":{"datum":-55.2,"type":"quantitative","scale":{"domain":[-48.85,1054],"nice":false,"zero":false},"axis":null},"x2":{"datum":1119},
"y":{"datum":0.1356,"type":"quantitative","scale":{"type":"log","domain":[1,100000],"nice":false},"axis":null},"y2":{"datum":1}}},
{"data":{"values":[{}]},"mark":{"type":"rect","color":"#ece9ee"},
"encoding":{"x":{"datum":-55.2,"type":"quantitative","scale":{"domain":[-48.85,1054],"nice":false,"zero":false},"axis":null},"x2":{"datum":47},
"y":{"datum":0.1356,"type":"quantitative","scale":{"type":"log","domain":[1,100000],"nice":false},"axis":null},"y2":{"datum":221000}}},
{"data":{"values":[{}]},"mark":{"type":"rect","color":"#ece9ee"},
"encoding":{"x":{"datum":1054,"type":"quantitative","scale":{"domain":[-48.85,1054],"nice":false,"zero":false},"axis":null},"x2":{"datum":1119},
"y":{"datum":0.1356,"type":"quantitative","scale":{"type":"log","domain":[1,100000],"nice":false},"axis":null},"y2":{"datum":221000}}},
{"data":{"values":[{}]},"mark":{"type":"rect","fill":"transparent","stroke":"#777","strokeWidth":1.5},
"encoding":{"x":{"datum":47,"type":"quantitative","scale":{"domain":[-48.85,1054],"nice":false,"zero":false},
"axis":{"orient":"bottom","values":[200,400,600,800,1000],"grid":true,"gridColor":"#999","gridDash":[1,2],"gridWidth":1,"labels":false,"ticks":false,"domain":false,"title":null,"zindex":0}},"x2":{"datum":1054},
"y":{"datum":1,"type":"quantitative","scale":{"type":"log","domain":[1,100000],"nice":false},
"axis":{"orient":"left","values":[10,100,1000,10000],"grid":true,"gridColor":"#999","gridDash":[1,2],"gridWidth":1,"labels":false,"ticks":false,"domain":false,"title":null,"zindex":0}},"y2":{"datum":100000}}},
{"data":{"name":"specB"},"transform":[{"fold":["g","r"],"as":["s","v"]}],"mark":{"type":"line","interpolate":"step","strokeWidth":1.8},
"encoding":{
"x":{"field":"c","type":"quantitative","scale":{"domain":[-48.85,1054],"nice":false,"zero":false},
"axis":{"orient":"bottom","offset":3,"values":[50,100,150,200,250,300,350,400,450,500,550,600,650,700,750,800,850,900,950,1000,1050],"labelExpr":"datum.value % 200 == 0 ? format(datum.value, ',') : ''","grid":false,"domain":false,"tickSize":6,"tickColor":"#555","tickWidth":1,"labelFont":"DejaVu Sans","labelFontSize":10,"labelColor":"#333","labelPadding":7,"labelOverlap":false,"labelFlush":false,"title":"Channel","titleFont":"DejaVu Sans","titleFontSize":13,"titleFontWeight":"bold","titleColor":"#333","titlePadding":6,"titleX":470,"zindex":1}},
"y":{"field":"v","type":"quantitative","scale":{"type":"log","domain":[1,100000],"nice":false},
"axis":{"orient":"left","offset":-75,"values":[1,2,3,4,5,6,7,8,9,10,20,30,40,50,60,70,80,90,100,200,300,400,500,600,700,800,900,1000,2000,3000,4000,5000,6000,7000,8000,9000,10000,20000,30000,40000,50000,60000,70000,80000,90000,100000],
"labelExpr":"indexof([1,10,100,1000,10000,100000], datum.value) >= 0 ? format(datum.value, ',') : ''",
"tickSize":{"condition":{"test":"indexof([1,10,100,1000,10000,100000], datum.value) >= 0","value":9},"value":5},
"grid":false,"domain":true,"domainColor":"#666","tickColor":"#666","labelFont":"DejaVu Sans","labelFontSize":10,"labelColor":"#333","labelPadding":10,"labelOverlap":false,"labelFlush":false,"title":"Counts","titleFont":"DejaVu Sans","titleFontSize":12,"titleFontWeight":"bold","titleColor":"#333","titlePadding":4,"zindex":1}},
"color":{"field":"s","type":"nominal","scale":{"domain":["r","g"],"range":["#ee0000","#00dd00"]},
"legend":{"orient":"none","legendX":236,"legendY":412,"direction":"horizontal","title":null,"symbolType":"stroke","symbolStrokeWidth":2,"symbolSize":60,"labelFont":"DejaVu Sans","labelFontSize":10,"labelColor":"#222","labelLimit":400,"columnPadding":12,"padding":0,"zindex":1,
"labelExpr":"datum.label == 'r' ? 'test__xia00_0228_0000_0000.edf 1.1.r.10' : 'test__xia00_0231_0000_0000.edf 1.1.r.10'"}}}},
{"data":{"values":[{}]},"mark":{"type":"text","text":"B","font":"Liberation Sans","fontWeight":"bold","fontSize":31,"color":"#000","align":"center","baseline":"middle"},
"encoding":{"x":{"datum":113,"type":"quantitative","scale":{"domain":[-48.85,1054],"nice":false,"zero":false},"axis":null},"y":{"datum":29000,"type":"quantitative","scale":{"type":"log","domain":[1,100000],"nice":false},"axis":null}}},
{"data":{"values":[{}]},"mark":{"type":"rule","color":"#ff0000","strokeWidth":3},
"encoding":{"x":{"datum":498,"type":"quantitative","scale":{"domain":[-48.85,1054],"nice":false,"zero":false},"axis":null},"x2":{"datum":565},"y":{"datum":17900,"type":"quantitative","scale":{"type":"log","domain":[1,100000],"nice":false},"axis":null}}},
{"data":{"values":[{}]},"mark":{"type":"rule","color":"#00e600","strokeWidth":3},
"encoding":{"x":{"datum":498,"type":"quantitative","scale":{"domain":[-48.85,1054],"nice":false,"zero":false},"axis":null},"x2":{"datum":565},"y":{"datum":6700,"type":"quantitative","scale":{"type":"log","domain":[1,100000],"nice":false},"axis":null}}},
{"data":{"values":[{}]},"mark":{"type":"text","text":"Before peptide injection","font":"Liberation Sans","fontSize":23,"color":"#ff0000","align":"left","baseline":"middle"},
"encoding":{"x":{"datum":571,"type":"quantitative","scale":{"domain":[-48.85,1054],"nice":false,"zero":false},"axis":null},"y":{"datum":17900,"type":"quantitative","scale":{"type":"log","domain":[1,100000],"nice":false},"axis":null}}},
{"data":{"values":[{}]},"mark":{"type":"text","text":"After peptide injection","font":"Liberation Sans","fontSize":23,"color":"#00e600","align":"left","baseline":"middle"},
"encoding":{"x":{"datum":571,"type":"quantitative","scale":{"domain":[-48.85,1054],"nice":false,"zero":false},"axis":null},"y":{"datum":6700,"type":"quantitative","scale":{"type":"log","domain":[1,100000],"nice":false},"axis":null}}}
]
}
]
}
